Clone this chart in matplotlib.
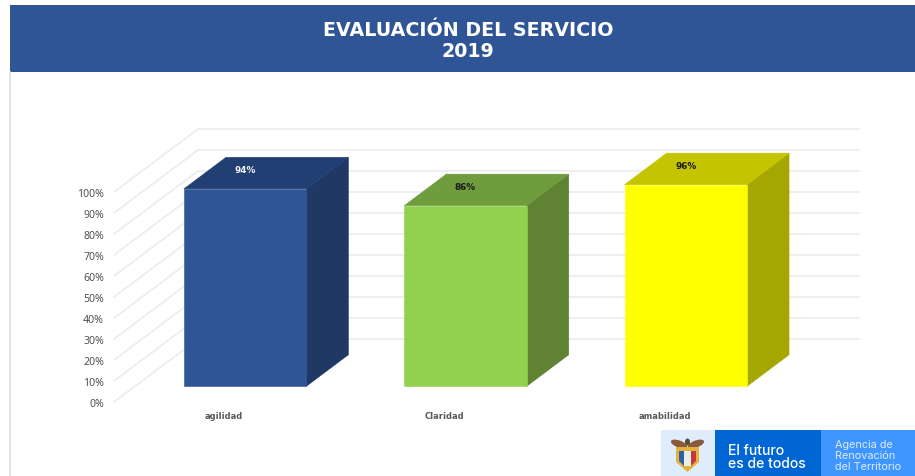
import matplotlib
matplotlib.use("Agg")
import matplotlib.pyplot as plt
from matplotlib.patches import Polygon, Rectangle, Ellipse

categories = ["agilidad", "Claridad", "amabilidad"]
values = [94, 86, 96]
value_labels = ["94%", "86%", "96%"]
front_colors = ["#2F5597", "#92D050", "#FFFF00"]
top_colors = ["#223F73", "#6F9C3D", "#C4C400"]
side_colors = ["#1F3864", "#5F8233", "#A6A600"]
label_colors = ["#F2F2F2", "#1A1A1A", "#1A1A1A"]
y_ticks = list(range(0, 101, 10))
title_lines = "EVALUACIÓN DEL SERVICIO\n2019"

W, H = 915, 477
BODY = ["Noto Sans", "DejaVu Sans"]
fig = plt.figure(figsize=(W / 100, H / 100), dpi=100, facecolor="white")

# page furniture, in pixel coordinates
bg = fig.add_axes([0, 0, 1, 1])
bg.set_xlim(0, W)
bg.set_ylim(H - 1, -1)
bg.axis("off")
bg.add_patch(Rectangle((10, 5), 905, 67, fc="#2F5597", ec="none"))
bg.plot([10, 10], [72, 477], color="#DEDEDE", lw=1.2)
bg.text(468, 40, title_lines, color="white", ha="center", va="center",
        fontsize=13.7, fontweight="bold", family="DejaVu Sans", linespacing=1.18)

# the 3D chart: front plane spans 3 categories and 0-100 %
ax = fig.add_axes([114 / W, 1 - 403 / H, 661 / W, 210 / H], facecolor="none")
ax.set_xlim(0, 3)
ax.set_ylim(0, 100)
for s in ax.spines.values():
    s.set_visible(False)
DX, DY = 84 / (661 / 3), 63 / 2.1   # full chart depth in data units
GRID = "#E8E8E8"


def proj(x, v, d):
    return (x + DX * d, v + DY * d)


for t in y_ticks:
    a, b, c = proj(0, t, 0), proj(0, t, 1), proj(3, t, 1)
    ax.plot([a[0], b[0], c[0]], [a[1], b[1], c[1]], color=GRID, lw=1.0,
            clip_on=False, zorder=1, solid_joinstyle="miter")

GAP = 0.8
bw = 1 / (1 + GAP)
for i, v in enumerate(values):
    x0 = i + 0.5 - bw / 2
    x1 = i + 0.5 + bw / 2
    d0, d1 = 0.25, 0.75
    front = [proj(x0, 0, d0), proj(x1, 0, d0), proj(x1, v, d0), proj(x0, v, d0)]
    top = [proj(x0, v, d0), proj(x1, v, d0), proj(x1, v, d1), proj(x0, v, d1)]
    side = [proj(x1, 0, d0), proj(x1, 0, d1), proj(x1, v, d1), proj(x1, v, d0)]
    for pts, col in ((side, side_colors[i]), (top, top_colors[i]), (front, front_colors[i])):
        ax.add_patch(Polygon(pts, closed=True, fc=col, ec=col, lw=0.4,
                             clip_on=False, zorder=3))
    ax.annotate(value_labels[i], xy=proj(i + 0.5, v, d0), xytext=(0, 14.0),
                textcoords="offset points", ha="center", va="center",
                fontsize=6.4, fontweight="bold", color=label_colors[i],
                family="DejaVu Sans", zorder=5, annotation_clip=False)

ax.set_yticks(y_ticks)
ax.set_yticklabels([f"{t}%" for t in y_ticks], fontsize=7.6, color="#505050", family=BODY)
ax.set_xticks([i + 0.5 for i in range(len(categories))])
ax.set_xticklabels(categories, fontsize=6.05, fontweight="bold", color="#595959", family="DejaVu Sans")
ax.tick_params(axis="y", length=0, pad=7.2)
ax.tick_params(axis="x", length=0, pad=6.8)

# logo strip
logo = fig.add_axes([0, 0, 1, 1], facecolor="none")
logo.set_xlim(0, W)
logo.set_ylim(H - 1, -1)
logo.axis("off")
logo.add_patch(Rectangle((661, 430), 54, 48, fc="#DEECFC", ec="none"))
logo.add_patch(Rectangle((715, 430), 106, 48, fc="#0066D3", ec="none"))
logo.add_patch(Rectangle((821, 430), 94, 48, fc="#3F96FF", ec="none"))
# crest
logo.add_patch(Ellipse((679, 444), 17, 7, angle=20, fc="#8A5A3A", ec="none"))
logo.add_patch(Ellipse((696, 444), 17, 7, angle=-20, fc="#8A5A3A", ec="none"))
logo.add_patch(Ellipse((687.5, 442), 5, 7, fc="#5E4A38", ec="none"))
logo.add_patch(Polygon([(676, 447), (699, 447), (699, 462), (687.5, 472), (676, 462)],
                       closed=True, fc="#E3B23C", ec="none"))
logo.add_patch(Polygon([(679, 451), (684, 451), (684, 466), (679, 461)], closed=True, fc="#2F5FA8", ec="none"))
logo.add_patch(Polygon([(691, 451), (696, 451), (696, 461), (691, 466)], closed=True, fc="#C8383A", ec="none"))
logo.add_patch(Rectangle((684, 451), 7, 15, fc="#E8F0E6", ec="none"))
logo.text(728, 450, "El futuro", color="white", fontsize=10.1, va="center", ha="left", family="Inter", fontweight="medium")
logo.text(728, 463, "es de todos", color="white", fontsize=10.1, va="center", ha="left", family="Inter", fontweight="medium")
for y, s in ((444.5, "Agencia de"), (455.5, "Renovación"), (466, "del Territorio")):
    logo.text(835, y, s, color="#DCEBFF", fontsize=7.85, va="center", ha="left", family="Inter")

fig.savefig("out.png", dpi=100)
